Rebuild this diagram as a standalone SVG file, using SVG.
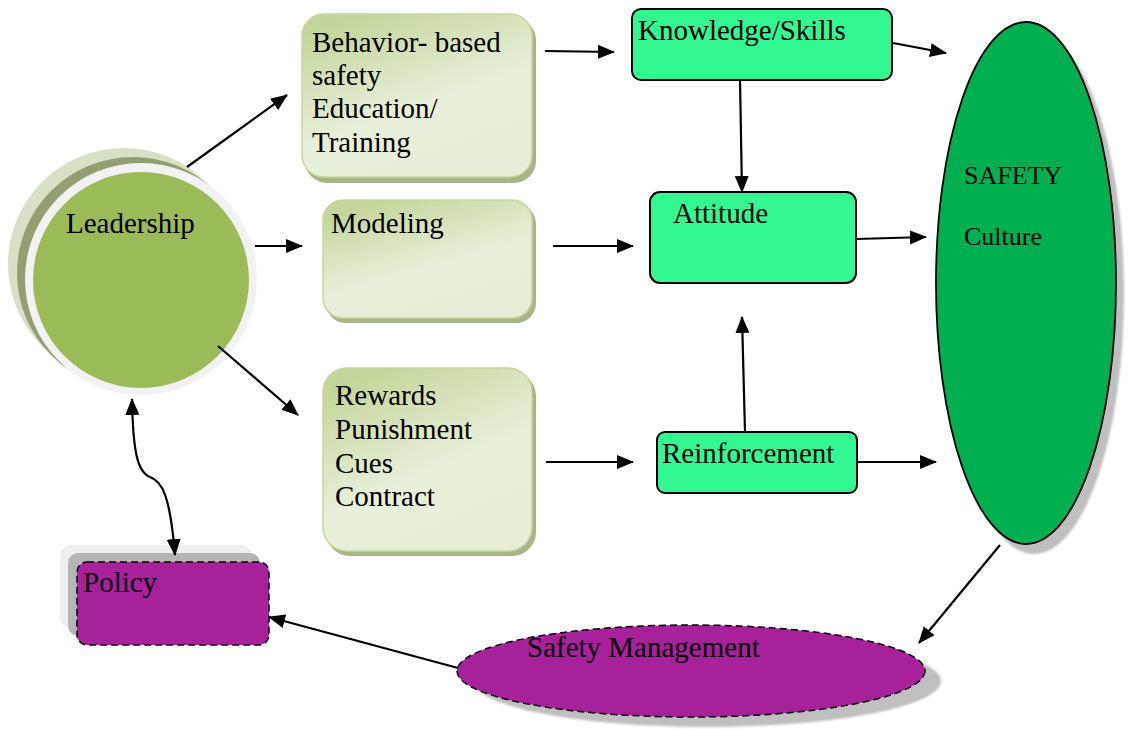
<svg xmlns="http://www.w3.org/2000/svg" width="1132" height="729" viewBox="0 0 1132 729" font-family="'Liberation Serif', 'Times New Roman', serif">
  <defs>
    <marker id="arrow" markerUnits="userSpaceOnUse" markerWidth="18" markerHeight="16" refX="16" refY="7" orient="auto-start-reverse">
      <path d="M0,0 L17,7 L0,14 z" fill="#000"/>
    </marker>
    <linearGradient id="soft" x1="0.25" y1="0" x2="0.75" y2="1">
      <stop offset="0" stop-color="#c3d59a"/>
      <stop offset="0.55" stop-color="#e8efda"/>
      <stop offset="1" stop-color="#e6eed7"/>
    </linearGradient>
    <filter id="blur2" x="-10%" y="-10%" width="120%" height="120%">
      <feGaussianBlur stdDeviation="1"/>
    </filter>
  </defs>
  <style>
    text { font-family: "Liberation Serif", "Times New Roman", serif; font-size: 29px; fill: #000; }
    .small { font-size: 26px; }
    .soft-shadow { fill: #a9b487; }
    .soft-box { fill: url(#soft); stroke: #c5d79f; stroke-width: 1.5; }
    .mint { fill: #33f790; stroke: #000; stroke-width: 2; }
    .line { fill: none; stroke: #000; stroke-width: 2.2; marker-end: url(#arrow); }
    .purple { fill: #a6219a; stroke: #000; stroke-width: 1.5; stroke-dasharray: 7 4; }
  </style>

  <rect width="1132" height="729" fill="#fff"/>

  <!-- Leadership -->
  <g id="leadership">
    <circle cx="124" cy="264" r="116" fill="#d8e1c6"/>
    <circle cx="133" cy="273" r="116" fill="#939f70"/>
    <circle cx="141" cy="279" r="116" fill="#f2f2f2"/>
    <circle cx="141" cy="280" r="108" fill="#9bbb59"/>
    <text x="66" y="233">Leadership</text>
  </g>

  <!-- Behavior-based safety -->
  <g id="behavior">
    <rect x="305" y="18" width="231" height="165" rx="22" class="soft-shadow"/>
    <rect x="302" y="14" width="230" height="163" rx="22" class="soft-box"/>
    <text x="312" y="52">Behavior- based</text>
    <text x="312" y="85">safety</text>
    <text x="312" y="118">Education/</text>
    <text x="312" y="152">Training</text>
  </g>

  <!-- Modeling -->
  <g id="modeling">
    <rect x="326" y="204" width="210" height="119" rx="20" class="soft-shadow"/>
    <rect x="323" y="200" width="209" height="118" rx="20" class="soft-box"/>
    <text x="331" y="233">Modeling</text>
  </g>

  <!-- Rewards / Punishment / Cues / Contract -->
  <g id="rewards">
    <rect x="326" y="372" width="210" height="184" rx="24" class="soft-shadow"/>
    <rect x="323" y="368" width="209" height="183" rx="24" class="soft-box"/>
    <text x="335" y="405">Rewards</text>
    <text x="335" y="439">Punishment</text>
    <text x="335" y="473">Cues</text>
    <text x="335" y="506">Contract</text>
  </g>

  <!-- Knowledge/Skills -->
  <g id="knowledge">
    <rect x="632" y="9" width="260" height="71" rx="9" class="mint"/>
    <text x="638" y="40">Knowledge/Skills</text>
  </g>

  <!-- Attitude -->
  <g id="attitude">
    <rect x="650" y="192" width="206" height="91" rx="10" class="mint"/>
    <text x="673" y="223">Attitude</text>
  </g>

  <!-- Reinforcement -->
  <g id="reinforcement">
    <rect x="657" y="432" width="200" height="61" rx="8" class="mint"/>
    <text x="662" y="463">Reinforcement</text>
  </g>

  <!-- Safety culture -->
  <g id="safety-culture">
    <ellipse cx="1034" cy="293" rx="90" ry="261" fill="#bfbfbf" filter="url(#blur2)"/>
    <ellipse cx="1026" cy="283" rx="90" ry="261" fill="#00b050" stroke="#000" stroke-width="1.8"/>
    <text x="964" y="184" class="small">SAFETY</text>
    <text x="964" y="245" class="small">Culture</text>
  </g>

  <!-- Safety Management -->
  <g id="safety-management">
    <ellipse cx="707" cy="681" rx="234" ry="46" fill="#bfbfbf" filter="url(#blur2)"/>
    <ellipse cx="691" cy="671" rx="234" ry="46" class="purple"/>
    <text x="527" y="657">Safety Management</text>
  </g>

  <!-- Policy -->
  <g id="policy">
    <rect x="60" y="545" width="192" height="83" rx="10" fill="#efefef"/>
    <rect x="68" y="553" width="192" height="83" rx="10" fill="#b5b5b5"/>
    <rect x="77" y="562" width="192" height="83" rx="10" class="purple"/>
    <text x="83" y="592">Policy</text>
  </g>

  <!-- Connectors -->
  <g id="connectors">
    <line x1="187" y1="167" x2="287" y2="95" class="line"/>
    <line x1="255" y1="246" x2="302" y2="246" class="line"/>
    <line x1="218" y1="346" x2="298" y2="415" class="line"/>
    <line x1="545" y1="51" x2="614" y2="52" class="line"/>
    <line x1="553" y1="246" x2="633" y2="246" class="line"/>
    <line x1="546" y1="462" x2="633" y2="462" class="line"/>
    <line x1="893" y1="43" x2="946" y2="53" class="line"/>
    <line x1="740" y1="80" x2="742" y2="192" class="line"/>
    <line x1="856" y1="239" x2="926" y2="237" class="line"/>
    <line x1="745" y1="432" x2="742" y2="317" class="line"/>
    <line x1="857" y1="462" x2="936" y2="462" class="line"/>
    <line x1="1000" y1="545" x2="919" y2="643" class="line"/>
    <line x1="458" y1="668" x2="269" y2="617" class="line"/>
    <path d="M132,399 C133,450 137,472 150,477 C162,481 170,495 175,555" class="line" marker-start="url(#arrow)"/>
  </g>
</svg>
